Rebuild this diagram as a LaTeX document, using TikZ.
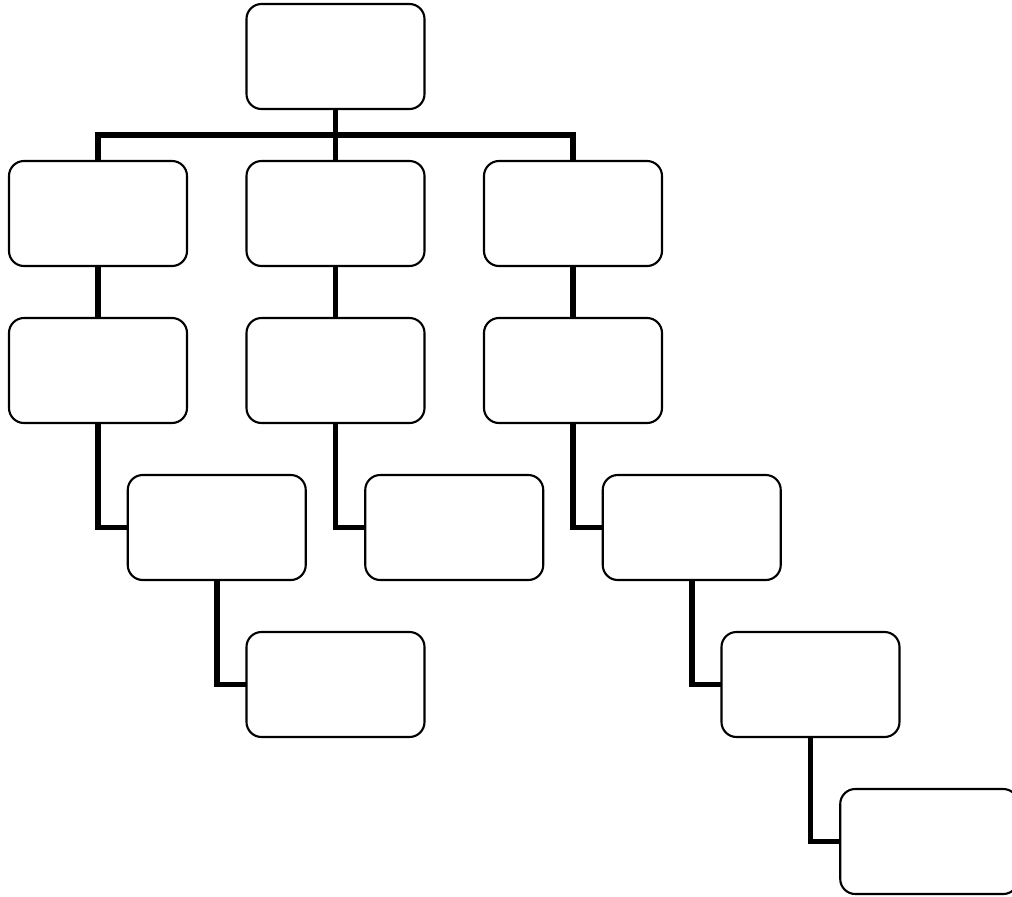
\documentclass[tikz,border=0pt]{standalone}
\usepackage{tikz}
\usetikzlibrary{positioning}
\usetikzlibrary{calc}

\begin{document}
\begin{tikzpicture}[
	box/.style={
		draw,
		fill=white,
		line width=0.6pt,
		rounded corners=0.15cm,
		minimum width=1.78cm,
		minimum height=1.05cm,
		inner sep=0pt,
		outer sep=0pt
	},
	link/.style={line width=1.6pt}
]

\useasboundingbox (0,0) rectangle (10.12,-8.97);

\node[box] (root) at (3.355,-0.565) {};

\node[
	box,
	below=0.52cm of root
] (midTop) {};

\node[
	box,
	left=0.595cm of midTop
] (leftTop) {};

\node[
	box,
	right=0.595cm of midTop
] (rightTop) {};

\node[
	box,
	below=0.52cm of leftTop
] (leftMid) {};

\node[
	box,
	below=0.52cm of midTop
] (midMid) {};

\node[
	box,
	below=0.52cm of rightTop
] (rightMid) {};

\node[
	box,
	below right=0.52cm and -0.5925cm of leftMid
] (leftSub) {};

\node[
	box,
	below right=0.52cm and -0.5925cm of midMid
] (midSub) {};

\node[
	box,
	below right=0.52cm and -0.5925cm of rightMid
] (rightSub) {};

\node[
	box,
	below right=0.52cm and -0.5925cm of leftSub
] (leftLeaf) {};

\node[
	box,
	below right=0.52cm and -0.5925cm of rightSub
] (rightLeaf) {};

\node[
	box,
	below right=0.52cm and -0.5925cm of rightLeaf
] (rightEnd) {};

% ---

\coordinate (hub) at ($(root.south)!0.5!(midTop.north)$);

\draw[link] (root.south) -- (midTop.north);
\draw[link] (leftTop.north) |- (hub) -| (rightTop.north);

\draw[link] (leftTop.south) -- (leftMid.north);
\draw[link] (midTop.south) -- (midMid.north);
\draw[link] (rightTop.south) -- (rightMid.north);

\draw[link] (leftMid.south) |- (leftSub.west);
\draw[link] (midMid.south) |- (midSub.west);
\draw[link] (rightMid.south) |- (rightSub.west);

\draw[link] (leftSub.south) |- (leftLeaf.west);
\draw[link] (rightSub.south) |- (rightLeaf.west);
\draw[link] (rightLeaf.south) |- (rightEnd.west);

\end{tikzpicture}
\end{document}
